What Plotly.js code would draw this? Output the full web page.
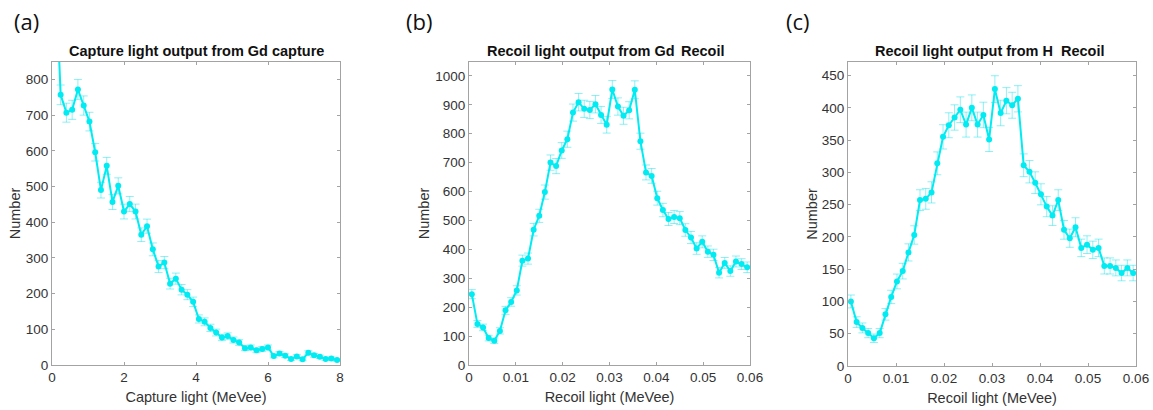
<!DOCTYPE html>
<html>
<head>
<meta charset="utf-8">
<script src="https://cdn.plot.ly/plotly-3.0.1.min.js"></script>
<style>
  html, body { margin: 0; padding: 0; background: #fff; }
  #chart { width: 1153px; height: 410px; }
</style>
</head>
<body>
<div id="chart"></div>
<script>
// (a) Gd capture light spectrum: bin centres (MeVee) and counts
const captureLight = [0.08, 0.24, 0.40, 0.56, 0.72, 0.88, 1.04, 1.20, 1.36, 1.52,
  1.68, 1.84, 2.00, 2.16, 2.32, 2.48, 2.64, 2.80, 2.96, 3.12,
  3.28, 3.44, 3.60, 3.76, 3.92, 4.08, 4.24, 4.40, 4.56, 4.72,
  4.88, 5.04, 5.20, 5.36, 5.52, 5.68, 5.84, 6.00, 6.16, 6.32,
  6.48, 6.64, 6.80, 6.96, 7.12, 7.28, 7.44, 7.60, 7.76, 7.92];
const captureCounts = [1150, 757, 707, 715, 772, 727, 682, 596, 490, 558,
  457, 502, 430, 451, 430, 365, 389, 324, 276, 287,
  228, 242, 211, 197, 177, 129, 121, 104, 91, 77,
  81, 70, 63, 47, 49, 41, 45, 49, 25, 32,
  26, 17, 24, 16, 34, 27, 23, 17, 18, 14];

// (b) and (c) share the recoil light binning (MeVee)
const recoilLight = [0.0006, 0.0018, 0.0030, 0.0042, 0.0054, 0.0066, 0.0078, 0.0090, 0.0102, 0.0114,
  0.0126, 0.0138, 0.0150, 0.0162, 0.0174, 0.0186, 0.0198, 0.0210, 0.0222, 0.0234,
  0.0246, 0.0258, 0.0270, 0.0282, 0.0294, 0.0306, 0.0318, 0.0330, 0.0342, 0.0354,
  0.0366, 0.0378, 0.0390, 0.0402, 0.0414, 0.0426, 0.0438, 0.0450, 0.0462, 0.0474,
  0.0486, 0.0498, 0.0510, 0.0522, 0.0534, 0.0546, 0.0558, 0.0570, 0.0582, 0.0594];

// (b) recoil light from Gd events
const recoilGdCounts = [245, 142, 130, 93, 84, 118, 189, 218, 258, 361,
  368, 468, 516, 598, 700, 688, 742, 781, 873, 909,
  886, 882, 902, 865, 831, 953, 894, 862, 881, 952,
  774, 666, 654, 577, 536, 505, 512, 508, 467, 441,
  403, 426, 392, 381, 319, 353, 325, 358, 349, 338];

// (c) recoil light from H events
const recoilHCounts = [100, 68, 59, 51, 43, 51, 80, 107, 131, 147,
  176, 203, 257, 259, 269, 314, 355, 373, 385, 397,
  374, 400, 374, 389, 351, 429, 392, 411, 404, 414,
  311, 301, 284, 266, 247, 233, 257, 211, 198, 215,
  183, 188, 180, 183, 155, 155, 152, 144, 152, 144];

const panelTitles = ['Capture light output from Gd capture', 'Recoil light output from Gd', 'Recoil light output from H'];
const panelTags = ['(a)', '(b)', '(c)'];
const xLabels = ['Capture light (MeVee)', 'Recoil light (MeVee)', 'Recoil light (MeVee)'];

const W = 1153, H = 410;
const px = v => v / W;
const py = v => 1 - v / H;

const CYAN = '#00EBF2';
const traceStyle = {
  type: 'scatter',
  mode: 'lines+markers',
  line: { color: CYAN, width: 2 },
  marker: { color: CYAN, size: 6 },
  error_y: { type: 'sqrt', visible: true, color: 'rgba(0,225,235,0.45)', thickness: 1, width: 4 },
  hoverinfo: 'x+y',
  showlegend: false
};

const traces = [
  Object.assign({}, traceStyle, { x: captureLight, y: captureCounts, xaxis: 'x', yaxis: 'y' }),
  Object.assign({}, traceStyle, { x: recoilLight, y: recoilGdCounts, xaxis: 'x2', yaxis: 'y2' }),
  Object.assign({}, traceStyle, { x: recoilLight, y: recoilHCounts, xaxis: 'x3', yaxis: 'y3' })
];

const tickFont = { family: 'Liberation Sans, Arial, sans-serif', size: 13.5, color: '#333333' };
const labelFont = { family: 'Liberation Sans, Arial, sans-serif', size: 14.5, color: '#333333' };
const boxAxis = {
  showline: true, linecolor: '#a3a3a3', linewidth: 1, mirror: 'ticks',
  ticks: 'inside', ticklen: 3, tickcolor: '#a3a3a3', tickwidth: 1,
  showgrid: false, zeroline: false, tickfont: tickFont, fixedrange: true
};

function xAxis(domain, range, dtick, title, anchor) {
  return Object.assign({}, boxAxis, {
    domain: domain, range: range, dtick: dtick, tick0: 0, anchor: anchor,
    title: { text: title, font: labelFont, standoff: 7 }
  });
}
function yAxis(domain, range, dtick, anchor, standoff) {
  return Object.assign({}, boxAxis, {
    domain: domain, range: range, dtick: dtick, tick0: 0, anchor: anchor,
    title: { text: 'Number', font: labelFont, standoff: standoff }
  });
}

const titleFont = { family: 'Liberation Sans, Arial, sans-serif', size: 14.5, color: '#111111', weight: 'bold' };
function note(text, xc, yc, font) {
  return { text: text, xref: 'paper', yref: 'paper', x: px(xc), y: py(yc),
           xanchor: 'center', yanchor: 'middle', showarrow: false, font: font };
}
const tagFont = { family: 'Open Sans, Liberation Sans, sans-serif', size: 22, color: '#111111' };

const layout = {
  width: W, height: H,
  margin: { l: 0, r: 0, t: 0, b: 0 },
  paper_bgcolor: '#ffffff', plot_bgcolor: '#ffffff',
  xaxis: xAxis([px(52), px(340)], [0, 8], 2, xLabels[0], 'y'),
  yaxis: yAxis([py(365), py(62)], [0, 849], 100, 'x', 1),
  xaxis2: xAxis([px(469), px(750)], [0, 0.06], 0.01, xLabels[1], 'y2'),
  yaxis2: yAxis([py(365), py(62)], [0, 1048], 100, 'x2', 2),
  xaxis3: xAxis([px(848), px(1136)], [0, 0.06], 0.01, xLabels[2], 'y3'),
  yaxis3: yAxis([py(366), py(62)], [0, 471], 50, 'x3', 0),
  annotations: [
    note(panelTags[0], 26, 21, tagFont),
    note(panelTags[1], 419, 21, tagFont),
    note(panelTags[2], 798, 21, tagFont),
    note(panelTitles[0], 196, 51, titleFont),
    note(panelTitles[1], 581, 51, titleFont),
    note('Recoil', 703, 51, titleFont),
    note(panelTitles[2], 964, 51, titleFont),
    note('Recoil', 1083, 51, titleFont)
  ]
};

Plotly.newPlot('chart', traces, layout, { displayModeBar: false, staticPlot: true });
</script>
</body>
</html>
